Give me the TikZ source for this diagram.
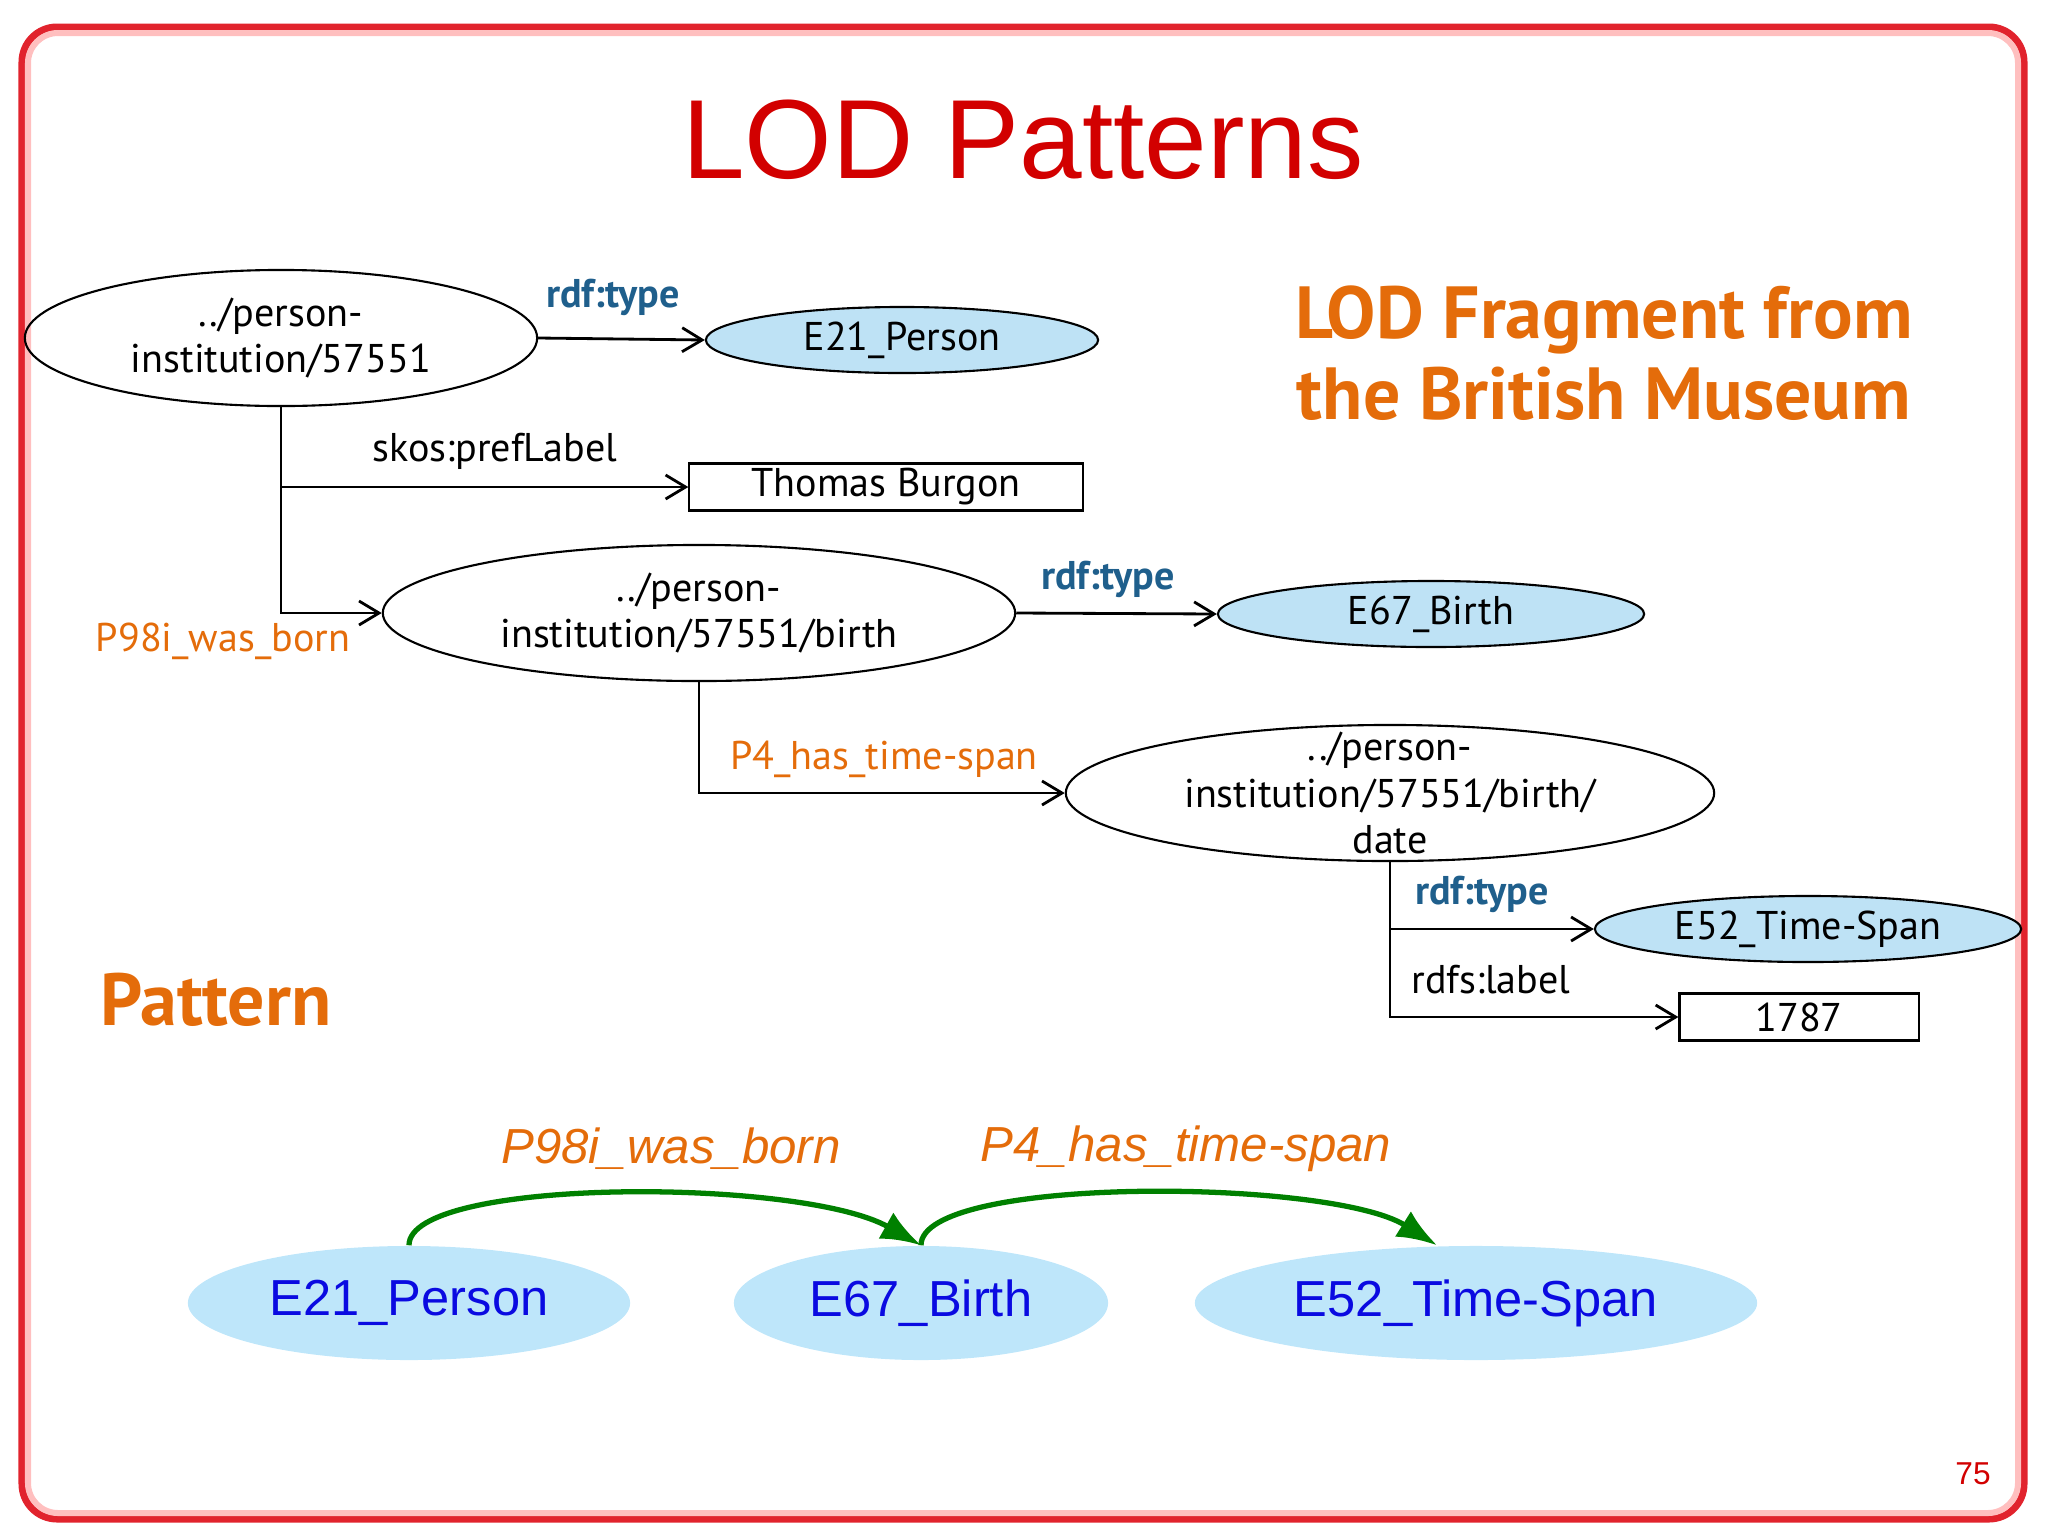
\documentclass[tikz,border=0pt]{standalone}
\usepackage{fontspec}
\setmainfont{PT Sans}
\newfontfamily\arialfont{Liberation Sans}
\usetikzlibrary{arrows.meta, positioning, shapes.geometric}
\definecolor{slidered}{RGB}{210,0,0}
\definecolor{framered}{RGB}{225,35,45}
\definecolor{lodorange}{RGB}{228,108,10}
\definecolor{rdfblue}{RGB}{31,95,140}
\definecolor{classfill}{RGB}{190,226,245}
\definecolor{patfill}{RGB}{190,230,250}
\definecolor{patblue}{RGB}{10,10,225}
\definecolor{patgreen}{RGB}{0,128,0}

\begin{document}
\begin{tikzpicture}[x=0.01cm, y=-0.01cm,
  txt/.style={font=\fontsize{11.4}{13.1}\selectfont},
  uri/.style={ellipse, draw, line width=0.6pt, inner sep=0pt, align=center, txt},
  cls/.style={ellipse, draw, line width=0.6pt, fill=classfill, inner sep=0pt, minimum width=4.26cm, minimum height=0.66cm, txt},
  lit/.style={draw, line width=0.6pt, inner sep=0pt, minimum height=0.47cm, txt},
  prop/.style={text=rdfblue, font=\fontsize{11.4}{13.1}\selectfont\bfseries},
  link/.style={line width=0.8pt, -{Straight Barb[length=0.2cm, width=0.24cm]}},
  pat/.style={ellipse, fill=patfill, inner sep=0pt, minimum height=1.14cm, text=patblue, font=\arialfont\fontsize{14.4}{17}\selectfont},
  patlabel/.style={text=lodorange, font=\arialfont\itshape\fontsize{14}{16}\selectfont},
  patlink/.style={patgreen, line width=1.5pt, -{Latex[length=0.4cm, width=0.3cm]}}]
  \useasboundingbox (0,0) rectangle (2048,1536);
  \draw[framered, line width=0.07cm, rounded corners=0.35cm] (22,27) rectangle (2024,1519);
  \draw[red!25, line width=0.06cm, rounded corners=0.3cm] (28,33) rectangle (2018,1513);
  \node[text=slidered, font=\arialfont\fontsize{32}{38}\selectfont] (title) at (1023,140) {LOD Patterns};
  \node[text=lodorange, font=\bfseries\fontsize{21}{23}\selectfont, align=center] (frag) at (1604,353) {LOD Fragment from\\the British Museum};
  \node[text=lodorange, font=\bfseries\fontsize{21}{24}\selectfont, anchor=west] (patt) at (88,1000) {Pattern};

  \node[uri, minimum width=5.12cm, minimum height=1.36cm] (per) at (281,338) {../person-\\institution/57551};
  \node[cls, minimum width=3.92cm] (e21) at (902,340) {E21\_Person};
  \node[lit, minimum width=3.93cm] (name) at (886,487) {Thomas Burgon};
  \node[uri, minimum width=6.32cm, minimum height=1.36cm] (birth) at (699,613) {../person-\\institution/57551/birth};
  \node[cls] (e67) at (1431,614) {E67\_Birth};
  \node[uri, minimum width=6.48cm, minimum height=1.36cm, inner ysep=-0.25cm] (date) at (1390,793) {../person-\\institution/57551/birth/\\date};
  \node[cls] (e52) at (1808,929) {E52\_Time-Span};
  \node[lit, minimum width=2.39cm] (year) at (1799,1017) {1787};

  \draw[link] (per.east) -- (e21.west);
  \draw[link] (per.south) |- (birth.west);
  \draw[link] (per.south |- name.west) -- (name.west);
  \draw[link] (birth.east) -- (e67.west);
  \draw[link] (birth.south) |- (date.west);
  \draw[link] (date.south) |- (year.west);
  \draw[link] (date.south |- e52.west) -- (e52.west);

  \node[prop] (t1) at (613,297) {rdf:type};
  \node[txt] (l1) at (495,451) {skos:prefLabel};
  \node[txt, text=lodorange] (l2) at (223,641) {P98i\_was\_born};
  \node[prop] (t2) at (1108,579) {rdf:type};
  \node[txt, text=lodorange] (l3) at (884,759) {P4\_has\_time-span};
  \node[prop] (t3) at (1482,894) {rdf:type};
  \node[txt] (l4) at (1491,980) {rdfs:label};

  \node[pat, minimum width=4.42cm] (p21) at (409,1303) {E21\_Person};
  \node[pat, minimum width=3.74cm] (p67) at (921,1303) {E67\_Birth};
  \node[pat, minimum width=5.62cm] (p52) at (1476,1303) {E52\_Time-Span};
  \draw[patlink] (p21.north) .. controls +(0,-68) and +(-121,-68) .. (p67.north);
  \draw[patlink] (p67.north) .. controls +(0,-70) and +(-107,-67) .. ([xshift=-0.39cm]p52.north);
  \node[patlabel] (pl1) at (671,1149) {P98i\_was\_born};
  \node[patlabel] (pl2) at (1186,1149) {P4\_has\_time-span};

  \node[text=slidered, font=\arialfont\fontsize{9}{11}\selectfont] (pg) at (1973,1474) {75};
\end{tikzpicture}
\end{document}
